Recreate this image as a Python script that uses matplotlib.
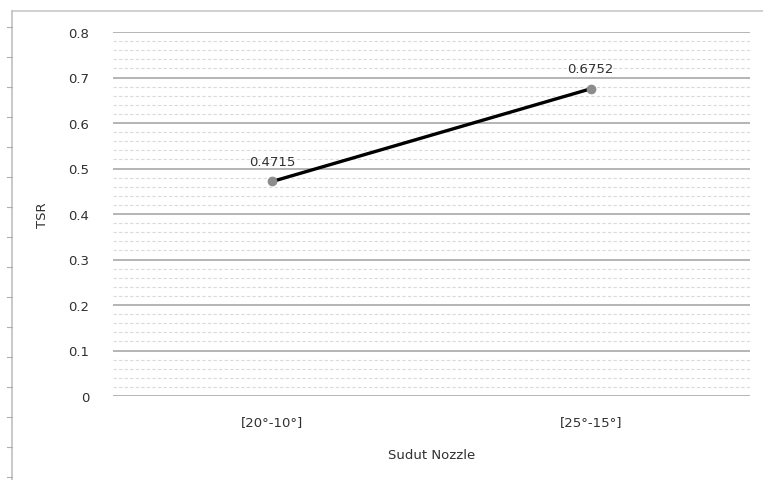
import matplotlib
matplotlib.use("Agg")
import matplotlib.pyplot as plt
from matplotlib.lines import Line2D
from matplotlib.ticker import MultipleLocator

# data
categories = ["[20\u00b0-10\u00b0]", "[25\u00b0-15\u00b0]"]
tsr = [0.4715, 0.6752]
labels = ["0.4715", "0.6752"]

W, H = 763, 481
fig = plt.figure(figsize=(W / 100, H / 100), dpi=100)
ax = fig.add_axes([113 / W, 1 - 397 / H, 637 / W, 364 / H])

fs = 9.5
tc = "#303030"

xs = list(range(len(categories)))
ax.plot(xs, tsr, color="black", lw=2.4, zorder=3)
ax.plot(xs, tsr, "o", color="#8c8c8c", ms=6, zorder=4)
for x, y, t in zip(xs, tsr, labels):
    ax.annotate(t, (x, y), xytext=(0, 10), textcoords="offset points",
                ha="center", va="bottom", fontsize=fs, color=tc)

ax.set_xlim(-0.5, 1.5)
ax.set_ylim(0, 0.8)
ax.yaxis.set_minor_locator(MultipleLocator(0.02))
ax.set_yticks([i / 10 for i in range(9)])
ax.set_yticklabels(["0"] + ["%.1f" % (i / 10) for i in range(1, 9)])
ax.set_xticks(xs)
ax.set_xticklabels(categories)
ax.grid(True, which="major", axis="y", color="#a0a0a0", lw=1.1)
ax.grid(True, which="minor", axis="y", color="#dadada", lw=0.8, ls=(0, (3, 2)))
ax.tick_params(axis="both", which="both", length=0, labelsize=fs,
               labelcolor=tc)
ax.tick_params(axis="y", pad=17)
ax.tick_params(axis="x", pad=14)
for s in ax.spines.values():
    s.set_visible(False)

ax.set_xlabel("Sudut Nozzle", fontsize=fs, color=tc, labelpad=14)
ax.set_ylabel("TSR", fontsize=fs, color=tc, labelpad=14)

# page frame with ruler ticks on the left
fig.add_artist(Line2D([12 / W, 1], [1 - 12 / H, 1 - 12 / H], color="#c8c8c8", lw=1.2))
fig.add_artist(Line2D([12 / W, 12 / W], [0, 1 - 12 / H], color="#c0c0c0", lw=1.2))
for py in range(28, H, 30):
    fig.add_artist(Line2D([7 / W, 12 / W], [1 - py / H, 1 - py / H], color="#b0b0b0", lw=0.8))

fig.savefig("out.png", dpi=100)
